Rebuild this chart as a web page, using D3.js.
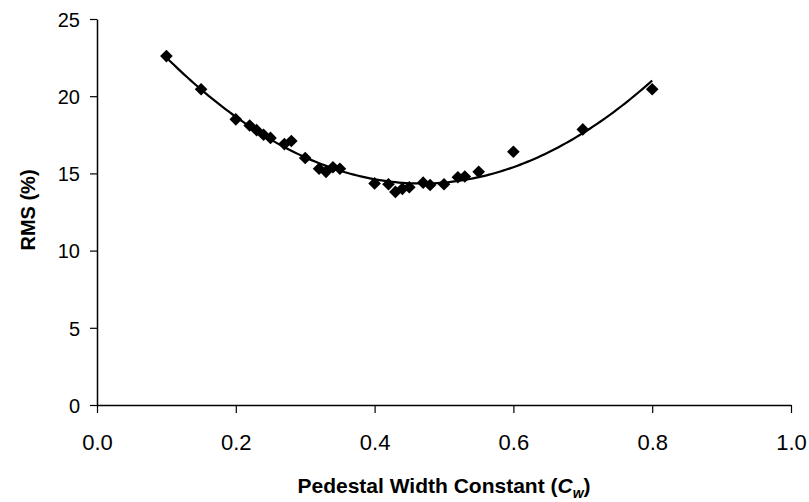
<!DOCTYPE html>
<html>
<head>
<meta charset="utf-8">
<script src="https://cdn.jsdelivr.net/npm/d3@7"></script>
<style>
  body { margin: 0; background: #fff; }
  text { font-family: "Liberation Sans", Arial, sans-serif; fill: #000; }
</style>
</head>
<body>
<svg id="chart" width="809" height="502"></svg>
<script>
// Pedestal width constant vs RMS
var cw = [0.10, 0.15, 0.20, 0.22, 0.23, 0.24, 0.25, 0.27, 0.28, 0.30,
          0.32, 0.33, 0.34, 0.35, 0.40, 0.42, 0.43, 0.44, 0.45, 0.47,
          0.48, 0.50, 0.52, 0.53, 0.55, 0.60, 0.70, 0.80];
var rms = [22.6, 20.45, 18.5, 18.1, 17.8, 17.5, 17.3, 16.9, 17.1, 16.0,
           15.3, 15.1, 15.4, 15.3, 14.35, 14.3, 13.8, 14.0, 14.1, 14.4,
           14.25, 14.3, 14.75, 14.8, 15.1, 16.4, 17.85, 20.45];
var xTicks = [0, 0.2, 0.4, 0.6, 0.8, 1.0];
var yTicks = [0, 5, 10, 15, 20, 25];

var svg = d3.select("#chart");
var x = d3.scaleLinear().domain([0, 1]).range([97, 791]);
var y = d3.scaleLinear().domain([0, 25]).range([405, 19]);

// 2nd order polynomial trendline (least squares)
function polyFit(xs, ys) {
    var n = xs.length, s = [0, 0, 0, 0, 0], t = [0, 0, 0];
    for (var i = 0; i < n; i++) {
        for (var k = 0; k < 5; k++) s[k] += Math.pow(xs[i], k);
        for (var k = 0; k < 3; k++) t[k] += ys[i] * Math.pow(xs[i], k);
    }
    var m = [[s[0], s[1], s[2], t[0]], [s[1], s[2], s[3], t[1]], [s[2], s[3], s[4], t[2]]];
    for (var c = 0; c < 3; c++) {
        for (var r = c + 1; r < 3; r++) {
            var f = m[r][c] / m[c][c];
            for (var j = c; j < 4; j++) m[r][j] -= f * m[c][j];
        }
    }
    var b = [0, 0, 0];
    for (var r = 2; r >= 0; r--) {
        var v = m[r][3];
        for (var j = r + 1; j < 3; j++) v -= m[r][j] * b[j];
        b[r] = v / m[r][r];
    }
    return b;
}
var coef = polyFit(cw, rms);
var fitPts = d3.range(0, 141).map(function(i) {
    var xv = 0.1 + i * 0.005;
    return [xv, coef[0] + coef[1] * xv + coef[2] * xv * xv];
});

// axes
var xAxis = d3.axisBottom(x).tickValues(xTicks).tickSize(8).tickSizeOuter(0)
    .tickFormat(d3.format(".1f"));
var gx = svg.append("g").attr("transform", "translate(0,405)").call(xAxis);
gx.select(".domain").attr("stroke", "#000").attr("stroke-width", 1.5);
gx.selectAll(".tick line").attr("stroke", "#000").attr("stroke-width", 1.2);
gx.selectAll(".tick text").attr("font-size", 22).attr("dy", 0).attr("y", 45)
    .attr("font-family", "Liberation Sans, Arial, sans-serif");

var yAxis = d3.axisLeft(y).tickValues(yTicks).tickSize(7).tickSizeOuter(0);
var gy = svg.append("g").attr("transform", "translate(97,0)").call(yAxis);
gy.select(".domain").attr("stroke", "#000").attr("stroke-width", 1.5);
gy.selectAll(".tick line").attr("stroke", "#000").attr("stroke-width", 1.2);
gy.selectAll(".tick text").attr("font-size", 20).attr("x", -17).attr("dy", "0.36em")
    .attr("font-family", "Liberation Sans, Arial, sans-serif");

// trendline
svg.append("path")
    .datum(fitPts)
    .attr("fill", "none")
    .attr("stroke", "#000")
    .attr("stroke-width", 2.2)
    .attr("d", d3.line().x(function(d) { return x(d[0]); }).y(function(d) { return y(d[1]); }));

// markers
var diamond = d3.symbol().type(d3.symbolSquare).size(80);
svg.append("g").selectAll("path")
    .data(cw)
    .enter()
    .append("path")
    .attr("d", diamond)
    .attr("fill", "#000")
    .attr("transform", function(d, i) {
        return "translate(" + x(d) + "," + y(rms[i]) + ") rotate(45)";
    });

// titles
var xt = svg.append("text")
    .attr("x", 444).attr("y", 493)
    .attr("text-anchor", "middle")
    .attr("font-size", 21).attr("font-weight", "bold");
xt.append("tspan").text("Pedestal Width Constant (");
xt.append("tspan").attr("font-style", "italic").text("C");
xt.append("tspan").attr("font-style", "italic").attr("font-size", 14).attr("dy", 5).text("w");
xt.append("tspan").attr("dy", -5).text(")");

svg.append("text")
    .attr("transform", "translate(35,210) rotate(-90)")
    .attr("text-anchor", "middle")
    .attr("font-size", 20).attr("font-weight", "bold")
    .text("RMS (%)");
</script>
</body>
</html>
